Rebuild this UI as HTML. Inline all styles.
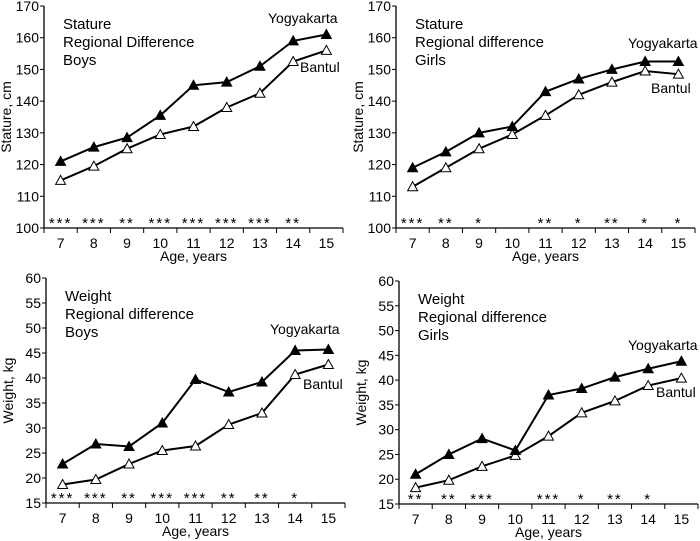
<!DOCTYPE html>
<html><head><meta charset="utf-8"><style>
body{margin:0;background:#fff}
svg{display:block;font-family:"Liberation Sans",sans-serif}
</style></head><body>
<svg id="s" width="700" height="541" xmlns="http://www.w3.org/2000/svg"></svg>
<script>
const P=[
{l:44,t:6,b:228,min:100,max:170,step:10,yl:"Stature, cm",title:["Stature","Regional Difference","Boys"],
Y:[121,125.5,128.5,135.5,145,146,151,159,161],B:[115,119.5,125,129.5,132,138,142.5,152.5,156],
st:["***","***","**","***","***","***","***","**",""],yk:[268,23],bk:[300,72]},
{l:396,t:6,b:228,min:100,max:170,step:10,yl:"Stature, cm",title:["Stature","Regional difference","Girls"],
Y:[119,124,130,132,143,147,150,152.5,152.5],B:[113,119,125,129.5,135.5,142,146,149.5,148.5],
st:["***","**","*","","**","*","**","*","*"],yk:[628,48],bk:[651,93]},
{l:46,t:278,b:503,min:15,max:60,step:5,yl:"Weight, kg",title:["Weight","Regional difference","Boys"],
Y:[22.8,26.8,26.3,31,39.7,37.2,39.2,45.5,45.7],B:[18.7,19.7,22.8,25.5,26.4,30.7,33,40.7,42.7],
st:["***","***","**","***","***","**","**","*",""],yk:[270,334],bk:[303,389]},
{l:399,t:281,b:504,min:15,max:60,step:5,yl:"Weight, kg",title:["Weight","Regional difference","Girls"],
Y:[21,25,28.2,25.8,37,38.3,40.6,42.3,43.8],B:[18.3,19.8,22.6,24.8,28.7,33.4,35.8,38.9,40.4],
st:["**","**","***","","***","*","**","*",""],yk:[628,350],bk:[656,397]}];
let h="";const W=299,cw=W/9;
for(const p of P){
 const sy=v=>p.b-(v-p.min)/(p.max-p.min)*(p.b-p.t), sx=i=>p.l+cw*(i+0.5);
 h+=`<line x1="${p.l}" y1="${p.t}" x2="${p.l}" y2="${p.b}" stroke="#000" stroke-width="1.3"/>`;
 h+=`<line x1="${p.l}" y1="${p.b}" x2="${p.l+W}" y2="${p.b}" stroke="#000" stroke-width="1.3"/>`;
 for(let v=p.min;v<=p.max;v+=p.step){const y=sy(v);
  h+=`<line x1="${p.l-4}" y1="${y}" x2="${p.l}" y2="${y}" stroke="#000"/>`;
  h+=`<text x="${p.l-5}" y="${y+5}" font-size="14" text-anchor="end">${v}</text>`;}
 for(let k=0;k<=9;k++){const x=p.l+cw*k;h+=`<line x1="${x}" y1="${p.b}" x2="${x}" y2="${p.b+5}" stroke="#000"/>`;}
 for(let i=0;i<9;i++){
  h+=`<text x="${sx(i)}" y="${p.b+20}" font-size="14" text-anchor="middle">${i+7}</text>`;
  if(p.st[i])h+=`<text x="${sx(i)}" y="${p.b}" font-size="15" text-anchor="middle" letter-spacing="2">${p.st[i]}</text>`;}
 h+=`<text x="${p.l+W/2}" y="${p.b+33}" font-size="14" text-anchor="middle">Age, years</text>`;
 const cy=(p.t+p.b)/2;
 h+=`<text transform="translate(${p.l-33},${cy}) rotate(-90)" font-size="14" text-anchor="middle">${p.yl}</text>`;
 p.title.forEach((t,j)=>h+=`<text x="${p.l+19}" y="${p.t+23+j*18}" font-size="15">${t}</text>`);
 const tri=(x,y,f)=>`<polygon points="${x},${y-5} ${x-5},${y+4} ${x+5},${y+4}" fill="${f}" stroke="#000" stroke-width="1"/>`;
 for(const [d,f] of [[p.B,"#fff"],[p.Y,"#000"]]){
  h+=`<polyline points="${d.map((v,i)=>sx(i)+","+sy(v)).join(" ")}" fill="none" stroke="#000" stroke-width="2"/>`;
  d.forEach((v,i)=>h+=tri(sx(i),sy(v),f));}
 h+=`<text x="${p.yk[0]}" y="${p.yk[1]}" font-size="14">Yogyakarta</text>`;
 h+=`<text x="${p.bk[0]}" y="${p.bk[1]}" font-size="14">Bantul</text>`;
}
document.getElementById("s").innerHTML=h;
</script>
</body></html>
